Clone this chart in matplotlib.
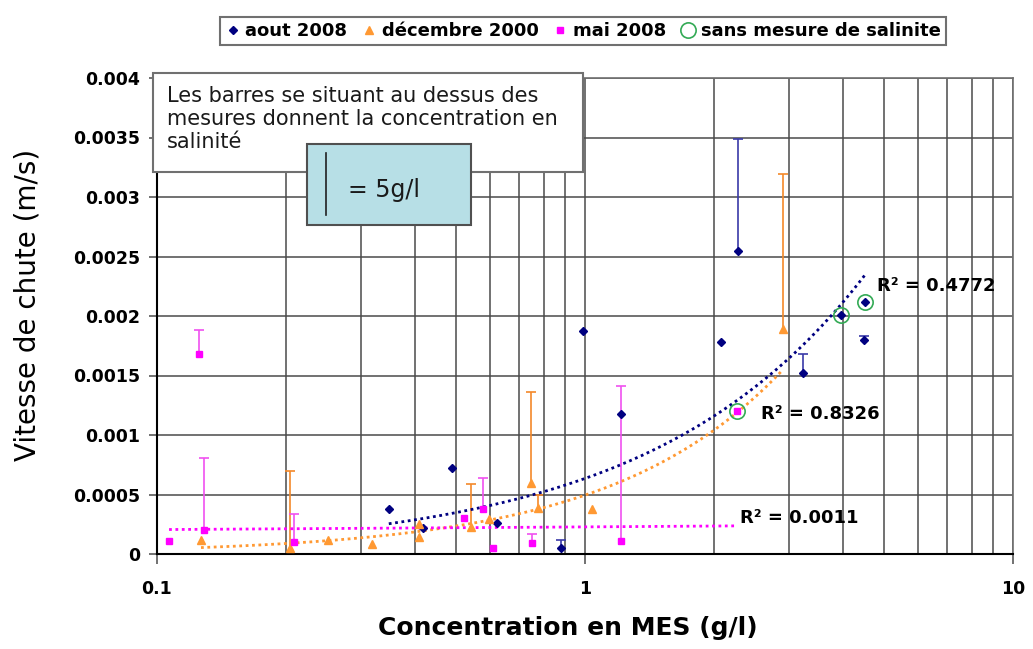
import numpy as np
import matplotlib
matplotlib.use("Agg")
import matplotlib.pyplot as plt
from matplotlib.patches import Rectangle
from matplotlib.lines import Line2D
from matplotlib.ticker import FixedLocator, NullFormatter, FixedFormatter

# aout 2008 (x = MES g/l, y = vitesse m/s, err = barre de salinite)
aout_x   = [0.348, 0.418, 0.489, 0.623, 0.879, 0.989, 1.214, 2.078, 2.277, 3.231, 3.963, 4.511, 4.486]
aout_y   = [0.00038, 0.00022, 0.00072, 0.00026, 0.00005, 0.00187, 0.00118, 0.00178, 0.00255, 0.00152, 0.00201, 0.00212, 0.0018]
aout_err = [0, 0, 0, 0, 0.00007, 0, 0, 0, 0.00094, 0.00016, 0, 0, 0.00003]

# decembre 2000
dec_x   = [0.1267, 0.2045, 0.2508, 0.3178, 0.4094, 0.4094, 0.5416, 0.5967, 0.7476, 0.7764, 1.0385, 2.901]
dec_y   = [0.00012, 0.00005, 0.00012, 0.00008, 0.00014, 0.00025, 0.00023, 0.00029, 0.0006, 0.00039, 0.00038, 0.00189]
dec_err = [0, 0.00065, 0, 0, 0, 0, 0.00036, 0, 0.00076, 0.00011, 0, 0.0013]

# mai 2008
mai_x   = [0.1067, 0.1253, 0.1288, 0.2089, 0.5216, 0.5777, 0.6095, 0.7517, 1.2137, 2.265]
mai_y   = [0.00011, 0.00168, 0.0002, 0.0001, 0.0003, 0.00038, 0.00005, 0.00009, 0.00011, 0.0012]
mai_err = [0, 0.0002, 0.00061, 0.00024, 0, 0.00026, 0, 0.00008, 0.0013, 0]

# points sans mesure de salinite
sans_x = [2.265, 3.963, 4.511]
sans_y = [0.0012, 0.00201, 0.00212]

r2_labels = ["R² = 0.4772", "R² = 0.8326", "R² = 0.0011"]
yticks = [0, 0.0005, 0.001, 0.0015, 0.002, 0.0025, 0.003, 0.0035, 0.004]
ytick_labels = ["0", "0.0005", "0.001", "0.0015", "0.002", "0.0025", "0.003", "0.0035", "0.004"]

NAVY = "#000080"
ORANGE = "#ff9933"
MAGENTA = "#ff00ff"
GREEN = "#33aa55"

W, H = 1033, 649
fig = plt.figure(figsize=(W / 100, H / 100), dpi=100)
ax = fig.add_axes([157 / W, 1 - 554 / H, 856 / W, 476 / H])


def power_fit(x, y):
    # tendance puissance type Excel : ln y = b ln x + ln a
    b, lna = np.polyfit(np.log(x), np.log(y), 1)
    xs = np.geomspace(min(x), max(x), 200)
    return xs, np.exp(lna) * xs ** b


series = [
    (aout_x, aout_y, aout_err, NAVY, "#3a3aa8", "D", 4.5, "aout 2008"),
    (dec_x, dec_y, dec_err, ORANGE, "#f4892a", "^", 6, "décembre 2000"),
    (mai_x, mai_y, mai_err, MAGENTA, "#f050f0", "s", 5, "mai 2008"),
]

handles = []
for x, y, err, col, ecol, mk, ms, lab in series:
    x, y, err = np.array(x), np.array(y), np.array(err)
    m = err > 0
    ax.vlines(x[m], y[m], y[m] + err[m], color=ecol, lw=1.2, zorder=3)
    ax.plot(x[m], y[m] + err[m], ls="none", marker="_", ms=7, mew=1.2, color=ecol, zorder=3)
    xs, ys = power_fit(x, y)
    ax.plot(xs, ys, ls=(0, (1, 1.3)), lw=2.0, color=col, zorder=4)
    h, = ax.plot(x, y, ls="none", marker=mk, ms=ms, color=col, mec=col, zorder=5)
    handles.append(h)

h, = ax.plot(sans_x, sans_y, ls="none", marker="o", ms=11, mfc="none", mec=GREEN, mew=1.2, zorder=6)
handles.append(h)

ax.set_xscale("log")
ax.set_xlim(0.1, 10)
ax.set_ylim(0, 0.004)
ax.xaxis.set_major_locator(FixedLocator([0.1, 1, 10]))
ax.xaxis.set_major_formatter(FixedFormatter(["0.1", "1", "10"]))
ax.xaxis.set_minor_locator(FixedLocator([k * d for d in (0.1, 1) for k in range(2, 10)]))
ax.xaxis.set_minor_formatter(NullFormatter())
ax.yaxis.set_major_locator(FixedLocator(yticks))
ax.yaxis.set_major_formatter(FixedFormatter(ytick_labels))

ax.grid(True, which="both", axis="x", color="#4a4a4a", lw=1.1)
ax.grid(True, which="major", axis="y", color="#4a4a4a", lw=1.1)
ax.set_axisbelow(True)

ax.tick_params(axis="y", length=6, width=1.1, color="#4a4a4a", pad=6, labelsize=12.5)
ax.tick_params(axis="x", which="major", length=7, width=1.1, color="#4a4a4a", pad=12, labelsize=12.5)
ax.tick_params(axis="x", which="minor", length=0)
for t in ax.get_xticklabels() + ax.get_yticklabels():
    t.set_fontweight("bold")

for s in ("left", "bottom"):
    ax.spines[s].set_color("black")
    ax.spines[s].set_linewidth(1.5)
for s in ("top", "right"):
    ax.spines[s].set_color("#707070")
    ax.spines[s].set_linewidth(1.2)

ax.set_ylabel("Vitesse de chute (m/s)", fontsize=20)
ax.yaxis.set_label_coords(-0.135, 0.523)
ax.set_xlabel("Concentration en MES (g/l)", fontsize=18, fontweight="bold")
ax.xaxis.set_label_coords(0.48, -0.13)

# etiquettes R2
ax.text(0.841, 0.563, r2_labels[0], transform=ax.transAxes, fontsize=13, fontweight="bold", va="center")
ax.text(0.7056, 0.294, r2_labels[1], transform=ax.transAxes, fontsize=13, fontweight="bold", va="center")
ax.text(0.681, 0.0756, r2_labels[2], transform=ax.transAxes, fontsize=13, fontweight="bold", va="center")

# encadre explicatif
fig.patches.append(Rectangle((153 / W, 1 - 172 / H), 430 / W, 99 / H, transform=fig.transFigure,
                             facecolor="white", edgecolor="#707070", lw=1.5, zorder=10))
fig.text(167 / W, 1 - 86 / H, "Les barres se situant au dessus des\nmesures donnent la concentration en\nsalinité",
         fontsize=15, va="top", ha="left", linespacing=1.2, color="#1a1a1a", zorder=11)
fig.patches.append(Rectangle((307 / W, 1 - 225 / H), 164 / W, 81 / H, transform=fig.transFigure,
                             facecolor="#b7dfe6", edgecolor="#505050", lw=1.5, zorder=12))
fig.lines.append(Line2D([326 / W, 326 / W], [1 - 153 / H, 1 - 215 / H], transform=fig.transFigure,
                        color="#202020", lw=1.2, zorder=13))
fig.text(348 / W, 1 - 190 / H, "= 5g/l", fontsize=17, va="center", ha="left", color="#1a1a1a", zorder=13)

leg = fig.legend(handles, ["aout 2008", "décembre 2000", "mai 2008", "sans mesure de salinite"],
                 loc="center", bbox_to_anchor=(583 / W, 1 - 31 / H), ncol=4,
                 prop={"weight": "bold", "size": 13}, handlelength=0.8, handletextpad=0.3,
                 columnspacing=0.8, borderpad=0.3, fancybox=False, framealpha=1)
leg.get_frame().set_edgecolor("#707070")
leg.get_frame().set_linewidth(1.5)

fig.savefig("out.png", dpi=100)
